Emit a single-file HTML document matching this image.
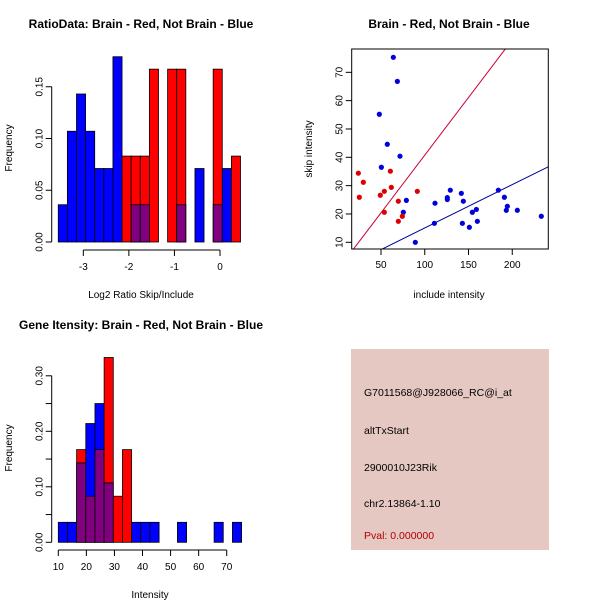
<!DOCTYPE html>
<html><head><meta charset="utf-8"><style>body{margin:0;background:#fff}svg{display:block;font-family:"Liberation Sans",sans-serif}</style></head>
<body>
<svg id="s" width="600" height="600" viewBox="0 0 600 600">
<rect width="600" height="600" fill="#fff"/>
<text x="141" y="28" font-size="12" font-weight="bold" text-anchor="middle">RatioData: Brain - Red, Not Brain - Blue</text>
<text x="141" y="298" font-size="10" text-anchor="middle">Log2 Ratio Skip/Include</text>
<text transform="translate(12,148) rotate(-90)" font-size="10" text-anchor="middle">Frequency</text>
<text x="449" y="28" font-size="12" font-weight="bold" text-anchor="middle">Brain - Red, Not Brain - Blue</text>
<text x="449" y="298" font-size="10" text-anchor="middle">include intensity</text>
<text transform="translate(312,149) rotate(-90)" font-size="10" text-anchor="middle">skip intensity</text>
<text x="141" y="329" font-size="12" font-weight="bold" text-anchor="middle">Gene Itensity: Brain - Red, Not Brain - Blue</text>
<text x="150" y="598" font-size="10" text-anchor="middle">Intensity</text>
<text transform="translate(12,448) rotate(-90)" font-size="10" text-anchor="middle">Frequency</text>
<rect x="351" y="349" width="198" height="201" fill="#e6c8c3"/>
<g font-size="10.5">
<text x="364" y="396">G7011568@J928066_RC@i_at</text>
<text x="364" y="434">altTxStart</text>
<text x="364" y="471">2900010J23Rik</text>
<text x="364" y="507">chr2.13864-1.10</text>
<text x="364" y="539" fill="#b00000">Pval: 0.000000</text>
</g>
<g id="g"></g>
</svg>
<script>
const ratioBlue=[0.036,0.107,0.143,0.107,0.071,0.071,0.179,0,0.036,0.036,0,0,0,0.036,0,0.071,0,0.036,0.071,0];
const ratioRed=[0,0,0,0,0,0,0,0.083,0.083,0.083,0.167,0,0.167,0.167,0,0,0,0.167,0,0.083];
const ratioYTicks=["0.00","0.05","0.10","0.15"];
const ratioXTicks=["-3","-2","-1","0"];
const intBlue=[0.036,0.036,0.143,0.214,0.25,0.107,0,0,0.036,0.036,0.036,0,0,0.036,0,0,0,0.036,0,0.036];
const intRed=[0,0,0.167,0.083,0.167,0.333,0.083,0.167,0,0,0,0,0,0,0,0,0,0,0,0];
const intYTicks=["0.00","","0.10","","0.20","","0.30"];
const intXTicks=["10","20","30","40","50","60","70"];
const blueX=[64.1,68.7,48.1,57.2,71.7,50.4,79,75.5,89.2,111.7,111,125.8,125.8,129.2,141.8,144.1,143,151,154.4,159,160.1,184.1,191,194.4,193.2,205.8,233.2];
const blueY=[75.3,66.8,55.2,44.6,40.4,36.5,24.8,20.6,10,23.8,16.7,25.8,25.1,28.4,27.3,24.5,16.7,15.3,20.6,21.6,17.4,28.4,25.9,22.7,21.3,21.3,19.2];
const redX=[24.1,29.8,25.2,49.2,53.8,60.7,61.8,53.8,69.8,74.4,69.8,91.5];
const redY=[34.4,31.2,25.9,26.6,28,35.1,29.4,20.6,24.5,19.2,17.4,28];
const redSlope=0.407, redIntercept=0.06, blueSlope=0.153, blueIntercept=-0.24;
const sXTicks=[50,100,150,200], sYTicks=[10,20,30,40,50,60,70];

const NS="http://www.w3.org/2000/svg", G=document.getElementById('g');
function mk(t,a,txt){const e=document.createElementNS(NS,t);for(const k in a)e.setAttribute(k,a[k]);if(txt!=null)e.textContent=txt;G.appendChild(e);return e;}

function hist(blue,red,x0,bw,y0,sy,pfx){
  for(let i=0;i<blue.length;i++){
    const b=blue[i],r=red[i],hi=Math.max(b,r),lo=Math.min(b,r);
    if(hi>0){const e=mk('rect',{x:x0+i*bw,y:y0-hi*sy,width:bw,height:hi*sy,fill:b>r?'#0000ff':'#ff0000',stroke:'#000','stroke-width':0.8});
      
      }
    if(lo>0){const e=mk('rect',{x:x0+i*bw,y:y0-lo*sy,width:bw,height:lo*sy,fill:'#800080',stroke:'#000','stroke-width':0.8});
      
      }
  }
}
function yaxis(ax,y0,sy,step,labels,pfx){
  const top=y0-(labels.length-1)*step*sy;
  const l=mk('line',{x1:ax,x2:ax,y1:y0,y2:top,stroke:'#000'});
  
  
  labels.forEach((t,i)=>{const y=y0-i*step*sy;mk('line',{x1:ax-6,x2:ax,y1:y,y2:y,stroke:'#000'});
    if(t){const e=mk('text',{transform:`translate(${ax-9},${y}) rotate(-90)`,'font-size':10,'text-anchor':'middle'},t);
      
      }});
}
function xaxis(ay,xf,vals,labels,pfx){
  const l=mk('line',{x1:xf(vals[0]),x2:xf(vals[vals.length-1]),y1:ay,y2:ay,stroke:'#000'});
  
  
  vals.forEach((v,i)=>{const x=xf(v);mk('line',{x1:x,x2:x,y1:ay,y2:ay+6,stroke:'#000'});
    const e=mk('text',{x:x,y:ay+20,'font-size':10,'text-anchor':'middle'},labels[i]);
    
    });
}
// top-left
const rx=v=>220+v*45.56;
hist(ratioBlue,ratioRed,rx(-3.55),0.2*45.56,242,1035,'ratio');
yaxis(51.7,242,1035,0.05,ratioYTicks,'ratio');
xaxis(250,rx,ratioXTicks.map(Number),ratioXTicks,'ratio');
// bottom-left
const ix=v=>58.3+(v-10)*2.807;
hist(intBlue,intRed,ix(10),(75.3-10)/20*2.807,542.3,555,'intensity');
yaxis(51.7,542.3,555,0.05,intYTicks,'intensity');
xaxis(550,ix,intXTicks.map(Number),intXTicks,'intensity');
// scatter
const sx=v=>381+(v-50)*0.875, sy=v=>242.3-(v-10)*2.833;
const L=351.7,R=548.3,T=49,B=249;
const cp=document.createElementNS(NS,'clipPath');cp.setAttribute('id','cp');
const cr=document.createElementNS(NS,'rect');cr.setAttribute('x',L);cr.setAttribute('y',T);cr.setAttribute('width',R-L);cr.setAttribute('height',B-T);cp.appendChild(cr);G.appendChild(cp);
function dataX(px){return 50+(px-381)/0.875;}
[[redSlope,redIntercept,'#cc0033','red-fit-line'],[blueSlope,blueIntercept,'#000099','blue-fit-line']].forEach(([m,c,col,n])=>{
  const a=dataX(L),b=dataX(R);
  const e=mk('line',{x1:sx(a),y1:sy(m*a+c),x2:sx(b),y2:sy(m*b+c),stroke:col,'clip-path':'url(#cp)'});
  
  
});
blueX.forEach((v,i)=>{const e=mk('circle',{cx:sx(v),cy:sy(blueY[i]),r:2.6,fill:'#0000dd'});
  
  });
redX.forEach((v,i)=>{const e=mk('circle',{cx:sx(v),cy:sy(redY[i]),r:2.6,fill:'#dd0000'});
  
  });
const box=mk('rect',{x:L,y:T,width:R-L,height:B-T,fill:'none',stroke:'#000'});


sXTicks.forEach(v=>{const x=sx(v);mk('line',{x1:x,x2:x,y1:B,y2:B+6,stroke:'#000'});
  const e=mk('text',{x:x,y:B+19,'font-size':10,'text-anchor':'middle'},String(v));
  
  });
sYTicks.forEach(v=>{const y=sy(v);mk('line',{x1:L-6,x2:L,y1:y,y2:y,stroke:'#000'});
  const e=mk('text',{transform:`translate(${L-9},${y}) rotate(-90)`,'font-size':10,'text-anchor':'middle'},String(v));
  
  });
</script>
</body></html>
